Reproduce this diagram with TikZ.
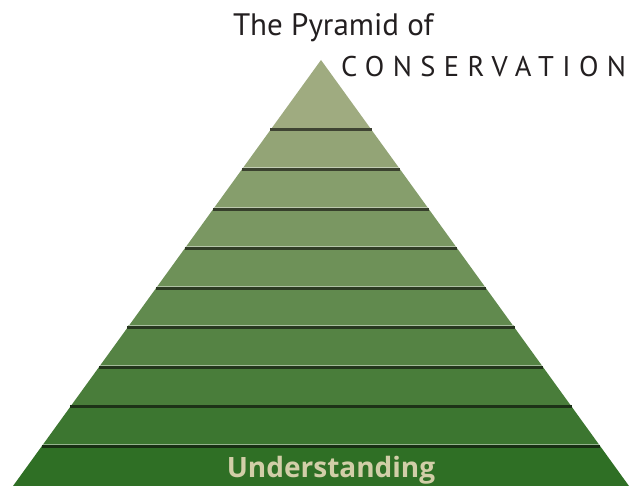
\documentclass[tikz,border=0pt]{standalone}
\usepackage{fontspec}
\setmainfont{PT Sans}
\newfontfamily\spacedfont[LetterSpace=29.5]{PT Sans}
\newfontfamily\labelfont{Open Sans}
\usetikzlibrary{positioning,calc}
\definecolor{bandtop}{HTML}{9FAB80}
\definecolor{bandbot}{HTML}{2F6F25}
\definecolor{titlegray}{HTML}{231F20}
\definecolor{labelcream}{HTML}{D2CEA8}

\begin{document}
\begin{tikzpicture}[x=1pt, y=-1pt,
  every node/.style={inner sep=0pt, outer sep=0pt},
  heading/.style={font=\fontsize{31}{31}\selectfont, text=titlegray, anchor=base west},
  subheading/.style={font=\fontsize{28.5}{28.5}\selectfont\spacedfont, text=titlegray, anchor=base west},
  layerlabel/.style={font=\fontsize{28}{28}\selectfont\labelfont\bfseries, text=labelcream, anchor=base},
  rule/.style={line width=3pt},
  gleam/.style={line width=0.8pt},
]
\useasboundingbox (0,0) rectangle (632,486);
% bands of the pyramid, apex at (321,60)
\foreach \k in {0,...,9} {
  \pgfmathsetmacro{\ytop}{\k==0 ? 60 : 130+(\k-1)*39.56}
  \pgfmathsetmacro{\ybot}{130+\k*39.56}
  \pgfmathtruncatemacro{\mixpct}{100*\k/9}
  \colorlet{bandcol}{bandbot!\mixpct!bandtop}
  \fill[bandcol] (321-0.723*\ytop+0.723*60, \ytop) -- (321+0.723*\ytop-0.723*60, \ytop)
    -- (321+0.723*\ybot-0.723*60, \ybot) -- (321-0.723*\ybot+0.723*60, \ybot) -- cycle;
}
% dark rules between bands
\foreach \k in {0,...,8} {
  \pgfmathsetmacro{\yr}{130+\k*39.56}
  \pgfmathtruncatemacro{\mixpct}{100*\k/9}
  \colorlet{bandcol}{bandbot!\mixpct!bandtop}
  \draw[gleam, bandcol!55!white] (321-0.723*\yr+0.723*60+1, \yr-2) -- (321+0.723*\yr-0.723*60-1, \yr-2);
  \draw[rule, bandcol!40!black] (321-0.723*\yr+0.723*60, \yr) -- (321+0.723*\yr-0.723*60, \yr);
}
\node[heading] (title) at (233,36) {The Pyramid of};
\node[subheading] (conservation) at (341,77) {CONSERVATION};
\node[layerlabel] (understanding) at (331,477) {Understanding};
\end{tikzpicture}
\end{document}
